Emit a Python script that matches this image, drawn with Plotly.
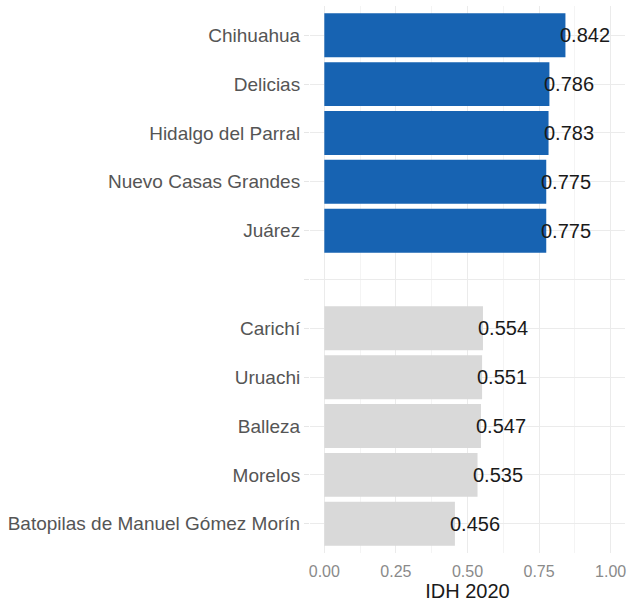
import plotly.graph_objects as go

# municipios, de abajo hacia arriba; el hueco separa los dos grupos
municipios = ["Batopilas de Manuel Gómez Morín", "Morelos", "Balleza", "Uruachi", "Carichí",
              " ",
              "Juárez", "Nuevo Casas Grandes", "Hidalgo del Parral", "Delicias", "Chihuahua"]
idh = [0.456, 0.535, 0.547, 0.551, 0.554,
       None,
       0.775, 0.775, 0.783, 0.786, 0.842]
grupo = ["bajo"] * 5 + [None] + ["alto"] * 5

colores = {"alto": "#1763b2", "bajo": "#d9d9d9", None: "rgba(0,0,0,0)"}

fig = go.Figure()
fig.add_trace(go.Bar(
    x=idh, y=municipios, orientation="h",
    marker=dict(color=[colores[g] for g in grupo], line=dict(width=0)),
    width=0.9, hoverinfo="x+y",
))

for m, v in zip(municipios, idh):
    if v is None:
        continue
    fig.add_annotation(x=v, y=m, text=f"{v:.3f}", showarrow=False,
                       xanchor="left", xshift=-7,
                       font=dict(size=20, color="#1a1a1a"))

fig.update_layout(
    width=629, height=602,
    margin=dict(l=310, r=4, t=6, b=49),
    plot_bgcolor="white", paper_bgcolor="white",
    font=dict(family="Liberation Sans, Arial, sans-serif"),
    showlegend=False,
    xaxis=dict(
        range=[-0.05, 1.05], tickvals=[0, 0.25, 0.5, 0.75, 1.0],
        ticktext=["0.00", "0.25", "0.50", "0.75", "1.00"],
        tickfont=dict(size=16, color="#8a8a8a"),
        showgrid=True, gridcolor="#ebebeb", gridwidth=1,
        minor=dict(dtick=0.125, tick0=0, showgrid=True, gridcolor="#f4f4f4", gridwidth=1),
        zeroline=False, showline=False, ticks="outside", ticklen=4, tickcolor="white",
        automargin=False,
        title=dict(text="IDH 2020", font=dict(size=20, color="#1a1a1a"), standoff=2),
    ),
    yaxis=dict(
        categoryorder="array", categoryarray=municipios, range=[-0.6, 10.6],
        tickfont=dict(size=19, color="#555555"),
        showgrid=True, gridcolor="#ebebeb", gridwidth=1,
        ticks="outside", ticklen=5, tickcolor="#e6e6e6",
        zeroline=False, showline=False, automargin=False,
    ),
)

fig.write_html("out.html", config={"displayModeBar": False},
               post_script="document.body.style.margin='0';")
